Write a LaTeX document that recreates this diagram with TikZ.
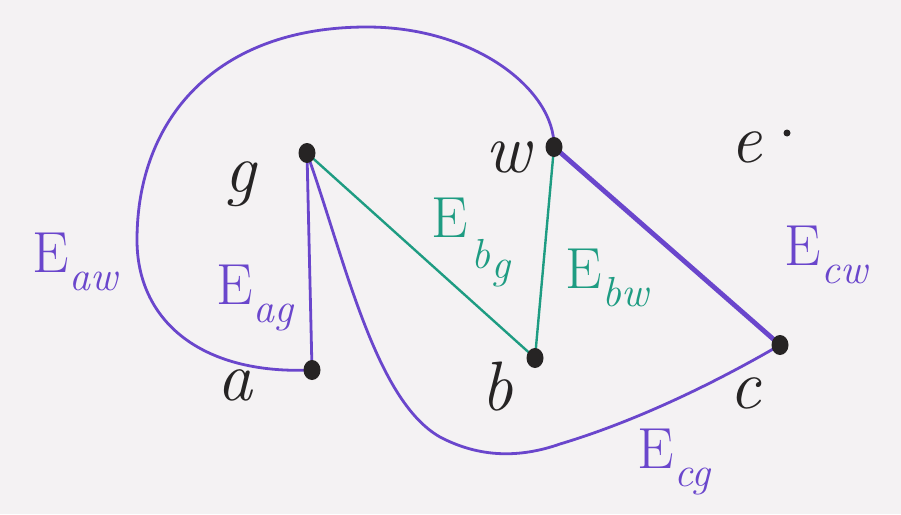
\documentclass[tikz,border=0pt]{standalone}
\usepackage{fontspec}
\setmainfont{Latin Modern Roman}
\usetikzlibrary{backgrounds}
\definecolor{paper}{HTML}{F4F2F3}
\definecolor{penpurple}{HTML}{6A46CC}
\definecolor{pengreen}{HTML}{1E9C82}
\definecolor{penblack}{HTML}{262424}
\newcommand{\elab}[1]{E\kern1pt\raisebox{-0.3em}{\fontsize{42}{42}\selectfont\itshape #1}}
\newcommand{\ebglab}{E\kern4pt\raisebox{-0.55em}{\fontsize{42}{42}\selectfont\itshape b}\kern1pt\raisebox{-0.72em}{\fontsize{42}{42}\selectfont\itshape g}}
\tikzset{
  dot/.style={ellipse,fill=penblack,inner sep=0pt,minimum width=17pt,minimum height=20pt},
  smalldot/.style={circle,fill=penblack,inner sep=0pt,minimum size=7pt},
  vlabel/.style={anchor=base,text=penblack,font=\fontsize{70}{70}\selectfont\itshape},
  elabel/.style={text=#1,font=\fontsize{58}{58}\selectfont},
  pedge/.style={draw=penpurple,line width=2.8pt,line cap=round},
  gedge/.style={draw=pengreen,line width=2.4pt,line cap=round},
}
\usetikzlibrary{shapes.geometric}
\begin{document}
\begin{tikzpicture}[x=1pt,y=-1pt]
\useasboundingbox (0,0) rectangle (901,514);
% vertices
\node[dot] (g) at (307,153) {};
\node[dot] (w) at (554,147) {};
\node[smalldot] (e) at (787,133) {};
\node[dot] (a) at (312,370) {};
\node[dot] (b) at (535,358) {};
\node[dot] (c) at (780,345) {};
% vertex labels
\node[vlabel] (lg) at (240,192) {g};
\node[vlabel] (lw) at (508,172) {w};
\node[vlabel] (le) at (746,162) {e};
\node[vlabel] (la) at (235,400) {a};
\node[vlabel] (lb) at (497,410) {b};
\node[vlabel] (lc) at (745,408) {c};
% edges
\begin{scope}[on background layer]
\fill[paper] (0,0) rectangle (901,514);
\draw[pedge] (a.center) .. controls (200,375) and (137,320) .. (137,240)
  .. controls (137,120) and (215,27) .. (367,27)
  .. controls (475,27) and (555,90) .. (w.center);
\draw[pedge] (a.center) -- (g.center);
\draw[pedge] (g.center) .. controls (345,260) and (375,400) .. (440,437)
  .. controls (480,458) and (520,458) .. (560,444)
  .. controls (640,420) and (720,380) .. (c.center);
\draw[pedge,line width=4.8pt] (w.center) -- (c.center);
\draw[gedge] (g.center) -- (b.center);
\draw[gedge] (b.center) -- (w.center);
\end{scope}
% edge labels
\node[elabel=penpurple] (Eaw) at (75,262) {\elab{aw}};
\node[elabel=penpurple] (Eag) at (255,298) {\elab{ag}};
\node[elabel=pengreen,anchor=base west] (Ebg) at (428,237) {\ebglab};
\node[elabel=pengreen] (Ebw) at (607,278) {\elab{bw}};
\node[elabel=penpurple] (Ecw) at (826,255) {\elab{cw}};
\node[elabel=penpurple] (Ecg) at (674,462) {\elab{cg}};
\end{tikzpicture}
\end{document}
